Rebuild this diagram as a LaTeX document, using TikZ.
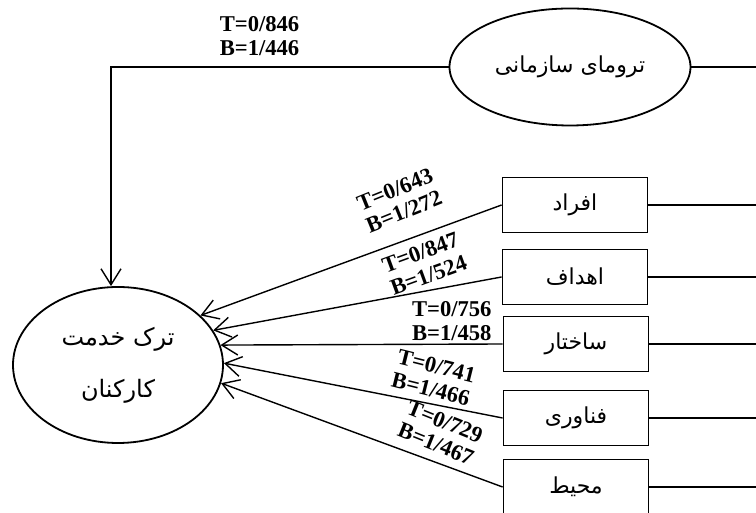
\documentclass[tikz,border=0pt]{standalone}
\usepackage{fontspec}
\setmainfont{Liberation Serif}
\newfontfamily\farsifont[Script=Arabic]{DejaVu Sans}
\TeXXeTstate=1
\usetikzlibrary{arrows.meta}
\usetikzlibrary{shapes.geometric}

\tikzset{
	lbl/.style={font=\fontsize{11.3}{12}\selectfont\bfseries, align=center, inner sep=1.5pt, anchor=south},
	faText/.style={font=\farsifont\fontsize{11}{13}\selectfont},
	ellBox/.style={draw, ellipse, line width=0.9pt, inner sep=0pt, faText},
	rectBox/.style={draw, rectangle, line width=0.9pt, minimum width=72.5pt, minimum height=27.5pt, inner sep=0pt, faText},
	conn/.style={line width=0.7pt},
	arr/.style={conn, -{Straight Barb[length=8pt,width=10pt]}}
}

\newcommand{\fa}[1]{\beginR #1\endR}

% box -> ellipse anchor angle, label pos, label angle, label raise, label
\newcommand {\drawArrowBoxToEll}[6] {
	\draw[arr] (#1.west) -- node[lbl, pos=#3, rotate=#4, yshift=#5] {#6} (EMP.#2);
}

\begin{document}
\begin{tikzpicture}[x=0.5pt, y=0.5pt]
	\useasboundingbox (0,0) rectangle (756,513);

	\node[ellBox, minimum width=105pt, minimum height=78pt, align=center, font=\farsifont\fontsize{12}{14}\selectfont] (EMP) at (118,148) {\fa{ترک خدمت}\\[12pt]\fa{کارکنان}};
	\node[ellBox, minimum width=120.5pt, minimum height=58.5pt] (TRM) at (570,446) {\fa{ترومای سازمانی}};

	\node[rectBox] (B1) at (575,308) {\fa{افراد}};
	\node[rectBox] (B2) at (575,236) {\fa{اهداف}};
	\node[rectBox] (B3) at (576,169) {\fa{ساختار}};
	\node[rectBox] (B4) at (576,95) {\fa{فناوری}};
	\node[rectBox] (B5) at (576,26) {\fa{محیط}};

	\coordinate (TRM_R) at (756,446);
	\coordinate (B1_R) at (756,308);
	\coordinate (B2_R) at (756,236);
	\coordinate (B3_R) at (756,169);
	\coordinate (B4_R) at (756,95);
	\coordinate (B5_R) at (756,26);
	\coordinate (C1) at (111,446);

	\draw[conn] (TRM.east) -- (TRM_R);
	\draw[conn] (B1.east) -- (B1_R);
	\draw[conn] (B2.east) -- (B2_R);
	\draw[conn] (B3.east) -- (B3_R);
	\draw[conn] (B4.east) -- (B4_R);
	\draw[conn] (B5.east) -- (B5_R);

	\draw[arr] (TRM.west) -- node[lbl, pos=.56, yshift=4pt] {T=0/846\\B=1/446} (C1) -- (C1 |- EMP.north);

	\drawArrowBoxToEll{B1}{31}{.29}{22}{8pt}{T=0/643\\B=1/272}
	\drawArrowBoxToEll{B2}{20}{.235}{20}{2pt}{T=0/847\\B=1/524}
	\drawArrowBoxToEll{B3}{11}{.18}{0}{0pt}{T=0/756\\B=1/458}
	\drawArrowBoxToEll{B4}{1}{.27}{-14}{1.5pt}{T=0/741\\B=1/466}
	\drawArrowBoxToEll{B5}{-10}{.26}{-22}{3pt}{T=0/729\\B=1/467}
\end{tikzpicture}
\end{document}
